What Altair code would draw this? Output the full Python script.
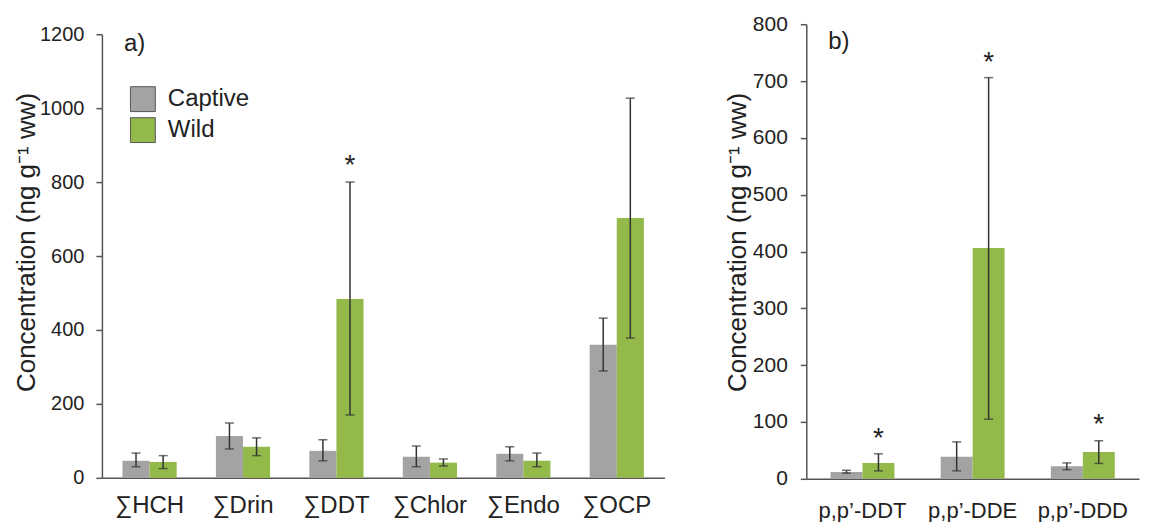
import altair as alt
import pandas as pd

# ---- Panel a data ----
cats_a = ["∑HCH", "∑Drin", "∑DDT", "∑Chlor", "∑Endo", "∑OCP"]
captive_a = [46, 113, 73, 57, 65, 360]
captive_a_lo = [30, 78, 46, 30, 46, 289]
captive_a_hi = [67, 148, 103, 86, 84, 432]
wild_a = [43, 84, 484, 41, 46, 703]
wild_a_lo = [25, 60, 170, 32, 30, 378]
wild_a_hi = [60, 108, 800, 51, 67, 1027]
star_a_cat = ["∑DDT"]
star_a_val = [860]

# ---- Panel b data ----
cats_b = ["p,p’-DDT", "p,p’-DDE", "p,p’-DDD"]
captive_b = [12, 39, 22]
captive_b_lo = [10, 14, 16]
captive_b_hi = [15, 65, 28]
wild_b = [28, 406, 47]
wild_b_lo = [14, 105, 27]
wild_b_hi = [44, 706, 67]
star_b_cat = ["p,p’-DDT", "p,p’-DDE", "p,p’-DDD"]
star_b_val = [81, 742, 105]

groups = ["Captive", "Wild"]
colors = ["#a3a3a3", "#93b94b"]
FONT = "Liberation Sans"
YTITLE = "Concentration (ng g⁻¹ ww)"


def make_df(cats, cap, cap_lo, cap_hi, wild, wild_lo, wild_hi):
    rows = []
    for i, c in enumerate(cats):
        rows.append(dict(cat=c, group="Captive", val=cap[i], lo=cap_lo[i], hi=cap_hi[i]))
        rows.append(dict(cat=c, group="Wild", val=wild[i], lo=wild_lo[i], hi=wild_hi[i]))
    return pd.DataFrame(rows)


def panel(df, cats, stars_cat, stars_val, ymax, ystep, width, height, label,
          show_legend, xlab_pad, xlab_size, ylab_size, title_pad, ylab_pad, title_y, lab_y):
    xenc = alt.X("cat:N", sort=cats, title=None,
                 scale=alt.Scale(paddingInner=0.42, paddingOuter=0.22),
                 axis=alt.Axis(labelAngle=0, ticks=False, labelFontSize=xlab_size,
                               labelPadding=xlab_pad,
                               labelFont=FONT, labelColor="#222", domainColor="#555",
                               domainWidth=1.5))
    yscale = alt.Scale(domain=[0, ymax], nice=False)
    yenc = alt.Y("val:Q", scale=yscale, title=YTITLE,
                 axis=alt.Axis(values=list(range(0, ymax + 1, ystep)), grid=False, format="d",
                               labelFontSize=ylab_size, labelFont=FONT, labelColor="#222",
                               titleFontSize=26, titleFont=FONT, titleFontWeight="normal",
                               titleColor="#222", tickSize=6, labelPadding=ylab_pad,
                               titlePadding=title_pad, titleY=title_y,
                               domainColor="#555", tickColor="#555",
                               domainWidth=1.5, tickWidth=1.5))
    xoff = alt.XOffset("group:N", sort=groups)
    if show_legend:
        legend = alt.Legend(title=None, orient="none", legendX=28, legendY=62,
                            symbolType="square", symbolSize=620, symbolStrokeColor="#555",
                            symbolStrokeWidth=1, labelFontSize=24, labelFont=FONT,
                            labelColor="#222", rowPadding=1, labelOffset=12,
                            symbolOpacity=1)
        color = alt.Color("group:N", sort=groups,
                          scale=alt.Scale(domain=groups, range=colors), legend=legend)
    else:
        color = alt.Color("group:N", sort=groups,
                          scale=alt.Scale(domain=groups, range=colors), legend=None)
    base = alt.Chart(df)
    bars = base.mark_bar(opacity=1).encode(x=xenc, xOffset=xoff, y=yenc, color=color)
    rules = base.mark_rule(color="#333", strokeWidth=1.5).encode(
        x=alt.X("cat:N", sort=cats), xOffset=xoff,
        y=alt.Y("lo:Q", scale=yscale), y2="hi:Q")
    caps_lo = base.mark_tick(color="#333", thickness=1.5, size=9).encode(
        x=alt.X("cat:N", sort=cats), xOffset=xoff, y=alt.Y("lo:Q", scale=yscale))
    caps_hi = base.mark_tick(color="#333", thickness=1.5, size=9).encode(
        x=alt.X("cat:N", sort=cats), xOffset=xoff, y=alt.Y("hi:Q", scale=yscale))
    sdf = pd.DataFrame({"cat": stars_cat, "group": ["Wild"] * len(stars_cat), "sv": stars_val})
    stars = alt.Chart(sdf).mark_text(text="*", fontSize=28, font=FONT, color="#222",
                                     baseline="middle", dy=6).encode(
        x=alt.X("cat:N", sort=cats), xOffset=alt.XOffset("group:N", sort=groups),
        y=alt.Y("sv:Q", scale=yscale))
    lab = alt.Chart(pd.DataFrame({"t": [label]})).mark_text(
        fontSize=24, font=FONT, color="#222", align="left", baseline="top").encode(
        text="t:N", x=alt.value(22), y=alt.value(lab_y))
    return alt.layer(bars, rules, caps_lo, caps_hi, stars, lab).properties(
        width=width, height=height)


df_a = make_df(cats_a, captive_a, captive_a_lo, captive_a_hi, wild_a, wild_a_lo, wild_a_hi)
df_b = make_df(cats_b, captive_b, captive_b_lo, captive_b_hi, wild_b, wild_b_lo, wild_b_hi)

pa = panel(df_a, cats_a, star_a_cat, star_a_val, 1200, 200, 563, 444, "a)", True,
           16, 24, 20, 0, 12, 208, -2)
pb = panel(df_b, cats_b, star_b_cat, star_b_val, 800, 100, 333, 455, "b)", False,
           22, 22, 21, 2, 13, 218, 6)

spacer = alt.Chart(pd.DataFrame({"s": [0]})).mark_rule(opacity=0, color="white").encode(
    x=alt.value(0), x2=alt.value(1), y=alt.value(0)).properties(width=10, height=1)
left = alt.vconcat(spacer, pa, spacing=-1)

chart = alt.hconcat(left, pb, spacing=59, background="white").resolve_scale(
    y="independent", x="independent", color="shared", xOffset="independent"
).configure_view(stroke="transparent", strokeWidth=0)

chart.save("out.html", embed_options={"renderer": "svg", "actions": False})
